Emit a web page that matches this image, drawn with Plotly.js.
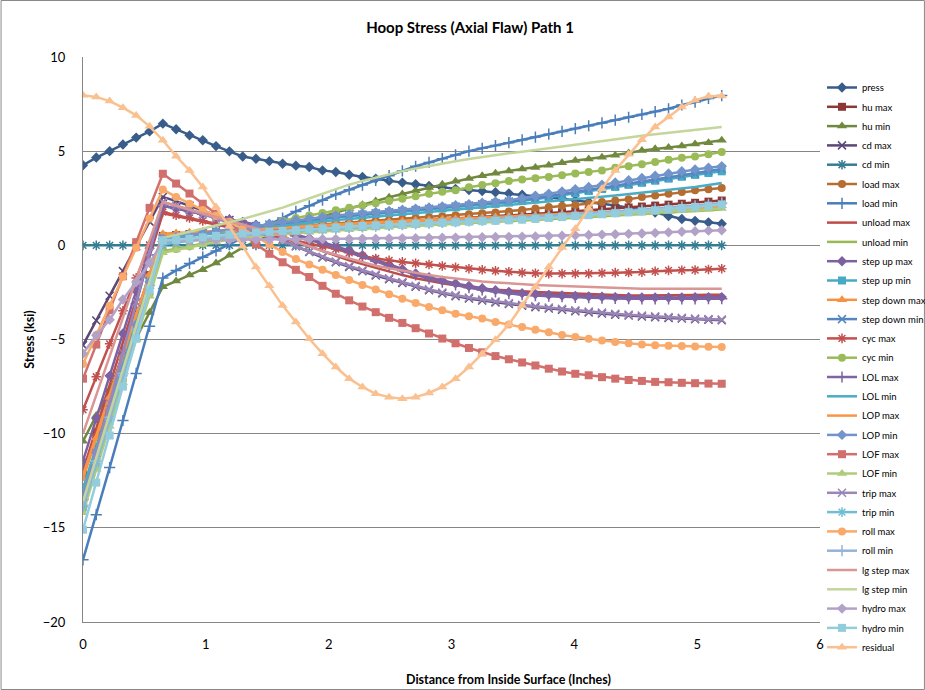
<!DOCTYPE html>
<html>
<head>
<meta charset="utf-8">
<script src="https://cdn.plot.ly/plotly-3.0.1.min.js"></script>
<style>html,body{margin:0;padding:0;background:#fff;}#chart{width:925px;height:690px;}</style>
</head>
<body>
<div id="chart"></div>
<script>
// Distance from inside surface (inches)
const xInches = [0,0.108,0.217,0.325,0.433,0.542,0.65,0.758,0.867,0.975,1.083,1.192,1.3,1.408,1.517,1.625,1.733,1.842,1.95,2.058,2.167,2.275,2.383,2.492,2.6,2.708,2.817,2.925,3.033,3.142,3.25,3.358,3.467,3.575,3.683,3.792,3.9,4.008,4.117,4.225,4.333,4.442,4.55,4.658,4.767,4.875,4.983,5.092,5.2];

const press = [4.25,4.66,5.0,5.35,5.72,6.05,6.46,6.16,5.84,5.58,5.27,4.99,4.72,4.6,4.47,4.33,4.23,4.16,3.98,3.89,3.75,3.63,3.54,3.42,3.33,3.24,3.15,3.06,3.0,2.94,2.88,2.82,2.76,2.69,2.62,2.54,2.47,2.39,2.3,2.21,2.11,2.01,1.88,1.74,1.55,1.4,1.3,1.22,1.15];
const huMax = [-12.0,-9.92,-7.83,-5.75,-3.67,-1.58,0.5,0.55,0.6,0.64,0.68,0.72,0.76,0.8,0.84,0.88,0.92,0.96,1.0,1.04,1.08,1.12,1.16,1.2,1.24,1.28,1.32,1.36,1.4,1.44,1.48,1.52,1.56,1.61,1.66,1.71,1.76,1.81,1.86,1.91,1.96,2.01,2.06,2.11,2.16,2.21,2.26,2.32,2.38];
const huMin = [-10.4,-9.03,-7.67,-6.3,-4.93,-3.57,-2.2,-1.9,-1.58,-1.29,-0.94,-0.53,-0.12,0.22,0.52,0.8,1.05,1.3,1.52,1.74,1.95,2.15,2.35,2.55,2.73,2.9,3.07,3.24,3.4,3.55,3.7,3.83,3.95,4.05,4.13,4.25,4.38,4.5,4.58,4.68,4.78,4.9,5.03,5.13,5.2,5.28,5.38,5.45,5.58];
const cdMax = [-5.3,-3.99,-2.68,-1.37,-0.05,1.26,2.57,2.35,2.1,1.85,1.6,1.35,1.1,0.85,0.6,0.3,-0.05,-0.35,-0.65,-0.9,-1.15,-1.38,-1.6,-1.8,-2.0,-2.2,-2.38,-2.55,-2.7,-2.82,-2.93,-3.03,-3.12,-3.2,-3.28,-3.35,-3.42,-3.5,-3.56,-3.62,-3.68,-3.73,-3.78,-3.82,-3.86,-3.89,-3.92,-3.95,-3.98];
const cdMin = [0,0,0,0,0,0,0,0,0,0,0,0,0,0,0,0,0,0,0,0,0,0,0,0,0,0,0,0,0,0,0,0,0,0,0,0,0,0,0,0,0,0,0,0,0,0,0,0,0];
const loadMax = [-12.3,-10.17,-8.03,-5.9,-3.77,-1.63,0.5,0.55,0.6,0.65,0.7,0.75,0.8,0.85,0.9,0.95,1.0,1.05,1.1,1.15,1.2,1.25,1.3,1.35,1.4,1.45,1.5,1.55,1.6,1.65,1.7,1.75,1.8,1.87,1.95,2.04,2.09,2.14,2.21,2.3,2.38,2.45,2.56,2.65,2.74,2.83,2.92,2.98,3.04];
const loadMin = [-16.7,-14.3,-11.8,-9.3,-6.8,-4.3,-1.74,-1.33,-0.96,-0.63,-0.3,0.05,0.4,0.75,1.1,1.45,1.8,2.1,2.4,2.7,2.95,3.2,3.45,3.7,3.95,4.2,4.4,4.6,4.8,5.0,5.15,5.3,5.45,5.6,5.75,5.9,6.05,6.2,6.35,6.5,6.65,6.8,6.95,7.1,7.25,7.45,7.6,7.8,7.95];
const unloadMax = [-12.0,-9.72,-7.43,-5.15,-2.87,-0.58,1.7,1.55,1.4,1.25,1.1,0.95,0.8,0.65,0.5,0.35,0.2,-0.05,-0.3,-0.55,-0.8,-1.0,-1.2,-1.4,-1.58,-1.75,-1.9,-2.02,-2.12,-2.22,-2.3,-2.36,-2.41,-2.45,-2.48,-2.51,-2.54,-2.57,-2.6,-2.62,-2.64,-2.66,-2.67,-2.67,-2.66,-2.65,-2.64,-2.63,-2.62];
const unloadMin = [-13.8,-11.48,-9.15,-6.83,-4.5,-2.18,0.15,0.22,0.3,0.37,0.43,0.49,0.54,0.59,0.63,0.67,0.71,0.75,0.79,0.83,0.87,0.91,0.95,0.99,1.03,1.06,1.09,1.12,1.15,1.18,1.21,1.24,1.27,1.3,1.34,1.38,1.42,1.46,1.5,1.54,1.58,1.62,1.66,1.7,1.74,1.78,1.82,1.86,1.9];
const stepUpMax = [-11.45,-9.19,-6.93,-4.68,-2.42,-0.16,2.1,1.95,1.8,1.66,1.52,1.38,1.24,1.1,0.94,0.77,0.58,0.38,0.17,-0.05,-0.28,-0.52,-0.78,-1.03,-1.27,-1.49,-1.69,-1.87,-2.02,-2.16,-2.28,-2.38,-2.47,-2.54,-2.59,-2.63,-2.66,-2.69,-2.71,-2.73,-2.75,-2.76,-2.77,-2.77,-2.77,-2.77,-2.76,-2.76,-2.75];
const stepUpMin = [-12.9,-10.69,-8.48,-6.28,-4.07,-1.86,0.35,0.43,0.52,0.61,0.7,0.79,0.88,0.97,1.06,1.15,1.24,1.32,1.4,1.48,1.54,1.6,1.66,1.72,1.78,1.84,1.9,1.96,2.02,2.08,2.14,2.2,2.27,2.35,2.44,2.55,2.66,2.77,2.88,2.99,3.1,3.21,3.32,3.43,3.54,3.64,3.74,3.84,3.93];
const stepDownMax = [-12.4,-10.23,-8.06,-5.89,-3.72,-1.55,0.62,0.66,0.7,0.74,0.78,0.82,0.86,0.9,0.94,0.98,1.02,1.06,1.1,1.14,1.17,1.2,1.23,1.26,1.29,1.32,1.35,1.38,1.41,1.44,1.47,1.5,1.53,1.56,1.59,1.62,1.65,1.68,1.71,1.74,1.77,1.8,1.84,1.88,1.92,1.96,2.0,2.05,2.1];
const stepDownMin = [-13.5,-11.18,-8.87,-6.55,-4.23,-1.92,0.4,0.48,0.57,0.66,0.75,0.84,0.93,1.02,1.11,1.2,1.29,1.37,1.45,1.52,1.58,1.64,1.7,1.76,1.82,1.88,1.94,2.0,2.06,2.12,2.18,2.25,2.32,2.4,2.5,2.61,2.72,2.83,2.94,3.05,3.16,3.27,3.38,3.49,3.6,3.7,3.8,3.93,4.05];
const cycMax = [-8.73,-6.98,-5.23,-3.48,-1.73,0.02,1.77,1.6,1.45,1.3,1.15,1.0,0.85,0.7,0.55,0.4,0.25,0.1,-0.05,-0.2,-0.4,-0.58,-0.7,-0.8,-0.88,-0.95,-1.02,-1.1,-1.17,-1.24,-1.3,-1.35,-1.4,-1.45,-1.48,-1.5,-1.5,-1.5,-1.5,-1.47,-1.45,-1.44,-1.42,-1.38,-1.33,-1.32,-1.31,-1.28,-1.24];
const cycMin = [-14.0,-11.72,-9.43,-7.15,-4.87,-2.58,-0.3,-0.2,-0.05,0.1,0.3,0.5,0.7,0.9,1.1,1.3,1.45,1.59,1.72,1.86,2.0,2.12,2.24,2.35,2.48,2.6,2.74,2.84,2.93,3.08,3.2,3.29,3.42,3.5,3.56,3.63,3.72,3.81,3.9,3.98,4.12,4.2,4.3,4.42,4.55,4.65,4.72,4.83,4.96];
const lolMax = [-13.5,-10.9,-8.3,-5.7,-3.1,-0.5,2.1,1.95,1.8,1.65,1.5,1.35,1.2,1.05,0.88,0.7,0.5,0.3,0.1,-0.12,-0.35,-0.58,-0.85,-1.1,-1.35,-1.57,-1.77,-1.95,-2.1,-2.25,-2.37,-2.47,-2.56,-2.62,-2.67,-2.7,-2.73,-2.76,-2.78,-2.8,-2.82,-2.83,-2.84,-2.84,-2.84,-2.84,-2.84,-2.83,-2.83];
const lolMin = [-13.0,-10.78,-8.55,-6.33,-4.1,-1.88,0.35,0.42,0.5,0.58,0.66,0.74,0.82,0.9,0.98,1.06,1.13,1.2,1.27,1.34,1.4,1.46,1.52,1.58,1.64,1.7,1.76,1.82,1.88,1.94,2.0,2.06,2.12,2.18,2.24,2.3,2.37,2.44,2.51,2.58,2.65,2.72,2.79,2.86,2.94,3.02,3.1,3.2,3.31];
const lopMax = [-12.2,-10.07,-7.94,-5.81,-3.68,-1.55,0.58,0.62,0.66,0.7,0.74,0.78,0.82,0.86,0.9,0.94,0.98,1.02,1.06,1.1,1.13,1.16,1.19,1.22,1.25,1.28,1.31,1.34,1.37,1.4,1.43,1.46,1.49,1.52,1.55,1.58,1.61,1.64,1.67,1.7,1.73,1.76,1.8,1.84,1.88,1.92,1.96,2.0,2.05];
const lopMin = [-13.3,-11.03,-8.75,-6.48,-4.2,-1.93,0.35,0.45,0.55,0.65,0.75,0.85,0.95,1.05,1.15,1.25,1.35,1.43,1.51,1.59,1.65,1.71,1.77,1.83,1.89,1.95,2.01,2.07,2.13,2.19,2.26,2.33,2.4,2.5,2.62,2.74,2.86,2.98,3.1,3.22,3.34,3.46,3.58,3.7,3.82,3.93,4.03,4.12,4.2];
const lofMax = [-7.08,-5.27,-3.45,-1.64,0.17,1.99,3.8,3.28,2.75,2.21,1.68,1.15,0.6,0.05,-0.45,-0.9,-1.3,-1.68,-2.15,-2.57,-2.92,-3.25,-3.55,-3.85,-4.12,-4.4,-4.68,-4.95,-5.2,-5.45,-5.68,-5.88,-6.05,-6.22,-6.38,-6.55,-6.7,-6.82,-6.9,-7.0,-7.08,-7.15,-7.2,-7.25,-7.27,-7.3,-7.32,-7.34,-7.35];
const lofMin = [-14.2,-11.9,-9.6,-7.3,-5.0,-2.7,-0.4,-0.25,-0.1,0.05,0.18,0.3,0.4,0.48,0.55,0.6,0.65,0.7,0.75,0.8,0.84,0.88,0.92,0.96,1.0,1.04,1.08,1.12,1.16,1.2,1.24,1.28,1.32,1.36,1.4,1.44,1.48,1.52,1.56,1.6,1.64,1.68,1.72,1.76,1.8,1.84,1.88,1.92,1.95];
const tripMax = [-13.7,-11.03,-8.37,-5.7,-3.03,-0.37,2.3,2.1,1.88,1.65,1.42,1.19,0.96,0.73,0.5,0.24,-0.05,-0.33,-0.61,-0.86,-1.1,-1.33,-1.55,-1.75,-1.95,-2.15,-2.33,-2.5,-2.65,-2.77,-2.88,-2.98,-3.07,-3.15,-3.23,-3.3,-3.37,-3.45,-3.51,-3.57,-3.63,-3.68,-3.73,-3.77,-3.81,-3.85,-3.88,-3.91,-3.94];
const tripMin = [-13.9,-11.58,-9.25,-6.93,-4.6,-2.28,0.05,0.15,0.24,0.32,0.4,0.47,0.53,0.59,0.64,0.69,0.74,0.79,0.84,0.88,0.92,0.96,1.0,1.04,1.08,1.12,1.16,1.2,1.24,1.28,1.32,1.36,1.4,1.44,1.48,1.52,1.56,1.6,1.65,1.7,1.75,1.8,1.85,1.9,1.95,2.0,2.05,2.12,2.2];
const rollMax = [-6.3,-4.76,-3.21,-1.67,-0.13,1.42,2.96,2.57,2.21,1.88,1.57,1.25,0.88,0.45,0.05,-0.35,-0.72,-1.02,-1.3,-1.57,-1.84,-2.1,-2.35,-2.6,-2.83,-3.06,-3.28,-3.45,-3.63,-3.77,-3.89,-4.07,-4.2,-4.34,-4.48,-4.62,-4.76,-4.87,-4.96,-5.05,-5.13,-5.2,-5.26,-5.3,-5.33,-5.35,-5.37,-5.39,-5.4];
const rollMin = [-13.8,-11.47,-9.13,-6.8,-4.47,-2.13,0.2,0.26,0.32,0.38,0.44,0.5,0.55,0.6,0.65,0.7,0.75,0.8,0.85,0.9,0.94,0.98,1.02,1.06,1.1,1.14,1.18,1.22,1.26,1.3,1.34,1.38,1.42,1.46,1.5,1.55,1.6,1.65,1.7,1.75,1.8,1.85,1.9,1.95,2.0,2.05,2.1,2.17,2.25];
const lgStepMax = [-10.0,-7.95,-5.9,-3.85,-1.8,0.25,2.3,2.1,1.9,1.7,1.5,1.3,1.1,0.9,0.7,0.5,0.2,-0.05,-0.3,-0.5,-0.7,-0.9,-1.08,-1.22,-1.35,-1.47,-1.58,-1.68,-1.77,-1.85,-1.92,-1.97,-2.02,-2.06,-2.1,-2.13,-2.16,-2.19,-2.22,-2.25,-2.27,-2.29,-2.3,-2.31,-2.31,-2.31,-2.31,-2.3,-2.3];
const lgStepMin = [-13.6,-11.27,-8.93,-6.6,-4.27,-1.93,0.4,0.55,0.72,0.9,1.05,1.2,1.4,1.6,1.8,2.0,2.25,2.5,2.75,3.0,3.22,3.42,3.6,3.78,3.94,4.08,4.22,4.35,4.47,4.58,4.69,4.79,4.89,4.97,5.05,5.15,5.25,5.35,5.45,5.55,5.65,5.73,5.82,5.9,5.98,6.06,6.14,6.21,6.28];
const hydroMax = [-5.75,-4.78,-3.95,-2.88,-1.95,-0.94,0.2,0.25,0.27,0.28,0.29,0.3,0.3,0.31,0.31,0.32,0.32,0.33,0.33,0.34,0.34,0.35,0.35,0.36,0.37,0.38,0.39,0.4,0.41,0.42,0.43,0.44,0.45,0.46,0.47,0.49,0.51,0.53,0.55,0.57,0.59,0.61,0.63,0.66,0.69,0.72,0.75,0.78,0.8];
const hydroMin = [-15.1,-12.6,-10.1,-7.5,-4.96,-2.39,0.27,0.29,0.35,0.42,0.5,0.57,0.63,0.68,0.72,0.76,0.8,0.85,0.9,0.95,1.0,1.03,1.06,1.09,1.12,1.15,1.18,1.2,1.22,1.25,1.28,1.3,1.33,1.36,1.4,1.45,1.5,1.55,1.6,1.65,1.7,1.75,1.8,1.86,1.92,1.98,2.04,2.1,2.17];
const residual = [7.97,7.88,7.66,7.31,6.9,6.32,5.58,4.73,3.98,3.1,2.03,1.0,-0.05,-1.15,-2.15,-3.2,-4.07,-4.96,-5.75,-6.46,-7.08,-7.52,-7.88,-8.06,-8.14,-8.06,-7.84,-7.52,-7.08,-6.46,-5.75,-5.01,-4.2,-3.19,-2.21,-1.15,-0.12,0.88,1.95,3.01,3.98,4.83,5.61,6.28,6.81,7.34,7.7,7.91,7.93];

const seriesNames = ["press","hu max","hu min","cd max","cd min","load max","load min","unload max","unload min","step up max","step up min","step down max","step down min","cyc max","cyc min","LOL max","LOL min","LOP max","LOP min","LOF max","LOF min","trip max","trip min","roll max","roll min","lg step max","lg step min","hydro max","hydro min","residual"];
const seriesValues = [press,huMax,huMin,cdMax,cdMin,loadMax,loadMin,unloadMax,unloadMin,stepUpMax,stepUpMin,stepDownMax,stepDownMin,cycMax,cycMin,lolMax,lolMin,lopMax,lopMin,lofMax,lofMin,tripMax,tripMin,rollMax,rollMin,lgStepMax,lgStepMin,hydroMax,hydroMin,residual];

// styles
const seriesColors = ["#385D8A","#8C3836","#71893F","#5C4776","#357D91","#B66D31","#4A7EBB","#BE4B48","#98B954","#7D60A0","#46AAC5","#F69240","#5586C2","#C2504D","#9BBB59","#7F63A2","#4BACC6","#F79646","#7394CB","#D16F6D","#AFCB7B","#9A86B8","#6FBED5","#F9A969","#95B3D7","#D99694","#C3D69B","#B3A2C7","#93CDDD","#FAC090"];
const seriesSymbols = ["diamond","square","triangle-up","x-thin","asterisk","circle","cross-thin",null,null,"diamond","square","triangle-up","x-thin","asterisk","circle","cross-thin",null,null,"diamond","square","triangle-up","x-thin","asterisk","circle","cross-thin",null,null,"diamond","square","triangle-up"];
const thinSymbols = ["x-thin","asterisk","cross-thin"];

const traces = seriesNames.map((name, i) => {
  const sym = seriesSymbols[i];
  const t = {
    type: "scatter",
    x: xInches,
    y: seriesValues[i],
    name: name,
    legendgroup: "g" + i,
    line: {color: seriesColors[i], width: 2.5},
    hoverinfo: "x+y+name"
  };
  if (sym) {
    t.mode = "lines+markers";
    const thin = thinSymbols.indexOf(sym) >= 0;
    let size = 8;
    if (sym === "triangle-up") size = 9;
    if (sym === "circle") size = 8;
    if (thin) size = 8;
    t.marker = {symbol: sym, size: size, color: seriesColors[i],
                line: {color: seriesColors[i], width: thin ? 1.5 : 0}};
  } else {
    t.mode = "lines";
  }
  return t;
});

const W = 925, H = 690;
const plotL = 82.5, plotR = 820, plotT = 57, plotB = 622;
const pw = plotR - plotL, ph = plotB - plotT;

const layout = {
  width: W, height: H,
  margin: {l: plotL, r: W - plotR, t: plotT, b: H - plotB, autoexpand: false},
  paper_bgcolor: "#ffffff",
  plot_bgcolor: "#ffffff",
  font: {family: "Lato, 'Open Sans', sans-serif", color: "#000000", size: 13},
  showlegend: true,
  title: {
    text: "<b>Hoop Stress (Axial Flaw) Path 1</b>",
    font: {family: "Lato, sans-serif", size: 15, color: "#000"},
    xref: "container", yref: "container",
    x: 470 / W, y: 1 - 28 / H, xanchor: "center", yanchor: "middle"
  },
  xaxis: {
    range: [0, 6], dtick: 1, tick0: 0,
    showgrid: false, zeroline: false,
    showline: true, linecolor: "#868686", linewidth: 1,
    ticks: "", ticklabelstandoff: 10,
    tickfont: {family: "Lato, sans-serif", size: 13, color: "#000"},
    fixedrange: true
  },
  yaxis: {
    range: [-20, 10], dtick: 5, tick0: 0,
    showgrid: true, gridcolor: "#868686", gridwidth: 1,
    zeroline: false,
    showline: true, linecolor: "#868686", linewidth: 1,
    ticks: "", ticklabelstandoff: 14,
    tickfont: {family: "Lato, sans-serif", size: 13, color: "#000"},
    title: {text: "<b>Stress (ksi)</b>", font: {family: "Lato, sans-serif", size: 12.5, color: "#000"}, standoff: 5},
    fixedrange: true
  },
  legend: {
    xref: "container", yref: "container",
    x: 822 / W, y: 1 - 73 / H, xanchor: "left", yanchor: "top",
    font: {family: "Lato, sans-serif", size: 9.5, color: "#000"},
    bgcolor: "rgba(0,0,0,0)",
    tracegroupgap: 0.3,
    itemwidth: 30,
    maxheight: 660
  },
  annotations: [{
    text: "<b>Distance from Inside Surface (Inches)</b>",
    xref: "paper", yref: "paper",
    x: (508 - plotL) / pw, y: (plotB - 679) / ph,
    xanchor: "center", yanchor: "middle", showarrow: false,
    font: {family: "Lato, sans-serif", size: 12.5, color: "#000"}
  }],
  shapes: [{
    type: "rect", xref: "paper", yref: "paper",
    x0: (0.5 - plotL) / pw, x1: (W - 0.5 - plotL) / pw,
    y0: (plotB - (H - 0.5)) / ph, y1: (plotB - 0.5) / ph,
    line: {color: "#898989", width: 1}, fillcolor: "rgba(0,0,0,0)", layer: "below"
  }]
};

Plotly.newPlot("chart", traces, layout, {displayModeBar: false, staticPlot: true});
</script>
</body>
</html>
